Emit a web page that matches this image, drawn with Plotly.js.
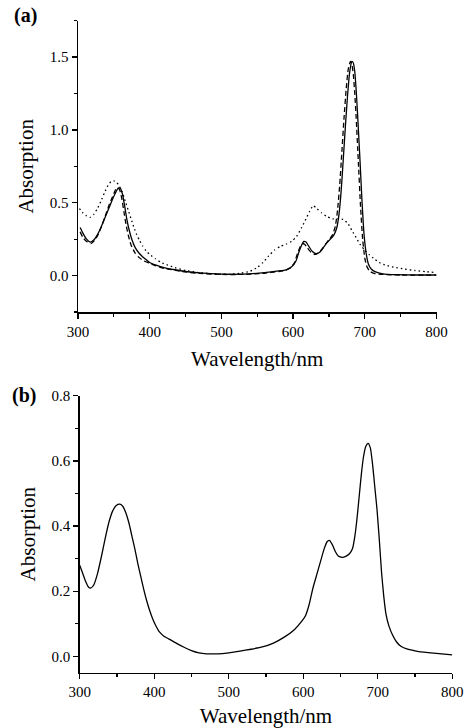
<!DOCTYPE html>
<html>
<head>
<meta charset="utf-8">
<script src="https://cdn.plot.ly/plotly-3.0.1.min.js"></script>
<style>html,body{margin:0;padding:0;background:#fff;}#chart{width:464px;height:728px;}</style>
</head>
<body>
<div id="chart"></div>
<script>
// Panel (a): solid curve
const aSolidWl = [303,307,312,317,322,327,332,337,342,347,352,356,359,362,365,368,371,375,380,385,390,395,400,410,420,435,450,470,500,530,560,580,590,598,604,608,612,615,618,622,627,632,637,642,647,652,657,661,664,667,670,673,676,679,682,684,686,688,690,693,696,699,702,705,709,715,725,745,775,800];
const aSolidAbs = [0.33,0.29,0.25,0.23,0.245,0.28,0.33,0.39,0.45,0.51,0.565,0.60,0.60,0.56,0.48,0.39,0.32,0.25,0.19,0.155,0.13,0.11,0.09,0.07,0.055,0.04,0.028,0.018,0.01,0.01,0.02,0.032,0.04,0.06,0.10,0.16,0.21,0.235,0.23,0.20,0.165,0.15,0.16,0.19,0.225,0.25,0.28,0.33,0.42,0.58,0.80,1.03,1.24,1.40,1.47,1.46,1.40,1.27,1.10,0.82,0.52,0.28,0.15,0.08,0.045,0.025,0.012,0.006,0.004,0.004];
// Panel (a): dashed curve
const aDashWl = [303,307,312,318,323,328,333,338,343,348,352,355,358,361,364,367,370,374,379,385,392,400,410,420,435,450,470,500,530,560,580,590,597,602,606,610,613,616,620,625,630,635,640,645,650,655,659,662,665,668,671,674,677,680,682,684,686,688,691,694,697,700,703,707,713,725,750,800];
const aDashAbs = [0.30,0.26,0.235,0.22,0.24,0.28,0.34,0.41,0.48,0.54,0.585,0.605,0.59,0.53,0.44,0.35,0.28,0.21,0.16,0.125,0.10,0.085,0.065,0.05,0.037,0.025,0.015,0.008,0.008,0.016,0.028,0.037,0.055,0.09,0.15,0.20,0.22,0.215,0.19,0.16,0.145,0.155,0.18,0.215,0.245,0.28,0.34,0.45,0.62,0.85,1.08,1.28,1.42,1.47,1.45,1.38,1.25,1.08,0.78,0.48,0.25,0.12,0.06,0.03,0.015,0.008,0.004,0.003];
// Panel (a): dotted curve
const aDotWl = [302,307,312,317,322,327,332,337,342,346,350,354,358,362,366,370,374,378,382,386,390,395,400,408,416,425,435,450,470,490,510,525,540,550,558,566,574,582,590,598,605,612,618,623,628,633,640,647,655,663,670,676,682,688,694,700,706,712,720,730,740,755,770,785,797];
const aDotAbs = [0.46,0.43,0.41,0.40,0.42,0.46,0.51,0.57,0.62,0.645,0.65,0.64,0.61,0.57,0.51,0.45,0.39,0.33,0.28,0.24,0.205,0.17,0.145,0.115,0.09,0.072,0.055,0.035,0.02,0.012,0.01,0.015,0.03,0.055,0.09,0.135,0.175,0.20,0.215,0.235,0.27,0.33,0.39,0.44,0.48,0.46,0.43,0.405,0.39,0.39,0.385,0.36,0.31,0.26,0.21,0.175,0.145,0.12,0.09,0.07,0.058,0.045,0.035,0.027,0.022];
// Panel (b)
const bWl = [300,304,308,312,315,319,324,329,334,339,344,349,354,358,362,366,370,374,378,382,386,390,394,398,402,407,413,420,430,440,450,460,470,485,500,515,530,545,560,575,588,597,603,608,613,618,623,628,632,635,639,643,647,652,657,662,666,669,672,675,678,681,684,687,690,693,696,699,702,705,708,711,715,720,725,731,740,755,775,800];
const bAbs = [0.28,0.255,0.23,0.212,0.21,0.22,0.255,0.305,0.36,0.41,0.445,0.463,0.467,0.46,0.44,0.41,0.37,0.33,0.285,0.245,0.205,0.17,0.14,0.115,0.095,0.075,0.062,0.053,0.04,0.028,0.018,0.011,0.008,0.008,0.011,0.016,0.022,0.029,0.041,0.06,0.082,0.105,0.125,0.16,0.21,0.25,0.29,0.33,0.352,0.356,0.343,0.322,0.308,0.304,0.307,0.315,0.33,0.365,0.42,0.49,0.56,0.615,0.645,0.654,0.64,0.59,0.52,0.45,0.36,0.26,0.185,0.13,0.093,0.065,0.045,0.031,0.022,0.015,0.01,0.005];
const xTicks = [300,400,500,600,700,800];

const FONT = 'Liberation Serif';
const ln = (dash) => ({color:'#000', width:1.3, dash:dash, shape:'spline', smoothing:0.5});

const traces = [
  {x:aSolidWl, y:aSolidAbs, type:'scatter', mode:'lines', line:ln('solid'), xaxis:'x', yaxis:'y'},
  {x:aDashWl, y:aDashAbs, type:'scatter', mode:'lines', line:ln('5px,3px'), xaxis:'x', yaxis:'y'},
  {x:aDotWl, y:aDotAbs, type:'scatter', mode:'lines', line:ln('1.5px,3px'), xaxis:'x', yaxis:'y'},
  {x:bWl, y:bAbs, type:'scatter', mode:'lines', line:ln('solid'), xaxis:'x2', yaxis:'y2'}
];

const axBase = {
  showline:true, linecolor:'#000', linewidth:1.5, mirror:false,
  ticks:'outside', ticklen:5, tickwidth:1.3, tickcolor:'#000',
  showgrid:false, zeroline:false,
  tickfont:{family:FONT, size:15, color:'#000'}
};

const layout = {
  width:464, height:728,
  margin:{l:0, r:0, t:0, b:0},
  paper_bgcolor:'#fff', plot_bgcolor:'#fff',
  showlegend:false,
  font:{family:FONT, color:'#000'},
  xaxis: Object.assign({}, axBase, {
    domain:[78/464, 436.5/464], anchor:'y', range:[300,800],
    tickvals:xTicks, ticktext:xTicks.map(String),
    minor:{dtick:50, tick0:300, ticks:'outside', ticklen:3, tickwidth:1.2, tickcolor:'#000'},
    title:{text:'Wavelength/nm', font:{family:FONT, size:21, color:'#000'}, standoff:13}
  }),
  yaxis: Object.assign({}, axBase, {
    domain:[(728-312)/728, (728-20.7)/728], anchor:'x', range:[-0.25,1.75],
    tick0:0, dtick:0.5, tickformat:'.1f',
    minor:{dtick:0.25, tick0:0, ticks:'outside', ticklen:3, tickwidth:1.2, tickcolor:'#000'},
    title:{text:'Absorption', font:{family:FONT, size:21, color:'#000'}, standoff:10}
  }),
  xaxis2: Object.assign({}, axBase, {
    domain:[79.7/464, 452.3/464], anchor:'y2', range:[300,800],
    tickvals:xTicks, ticktext:xTicks.map(String),
    minor:{dtick:50, tick0:300, ticks:'outside', ticklen:3, tickwidth:1.2, tickcolor:'#000'},
    title:{text:'Wavelength/nm', font:{family:FONT, size:21, color:'#000'}, standoff:16}
  }),
  yaxis2: Object.assign({}, axBase, {
    domain:[(728-672.7)/728, (728-395.7)/728], anchor:'x2', range:[-0.05,0.8],
    tick0:0, dtick:0.2, tickformat:'.1f',
    minor:{dtick:0.1, tick0:0, ticks:'outside', ticklen:3, tickwidth:1.2, tickcolor:'#000'},
    title:{text:'Absorption', font:{family:FONT, size:21, color:'#000'}, standoff:10}
  }),
  annotations:[
    {text:'<b>(a)</b>', xref:'paper', yref:'paper', x:25/464, y:1-15/728, xanchor:'center', yanchor:'middle', showarrow:false, font:{family:FONT, size:20, color:'#000'}},
    {text:'<b>(b)</b>', xref:'paper', yref:'paper', x:24/464, y:1-396/728, xanchor:'center', yanchor:'middle', showarrow:false, font:{family:FONT, size:20, color:'#000'}}
  ]
};

Plotly.newPlot('chart', traces, layout, {staticPlot:true, displayModeBar:false});
</script>
</body>
</html>
